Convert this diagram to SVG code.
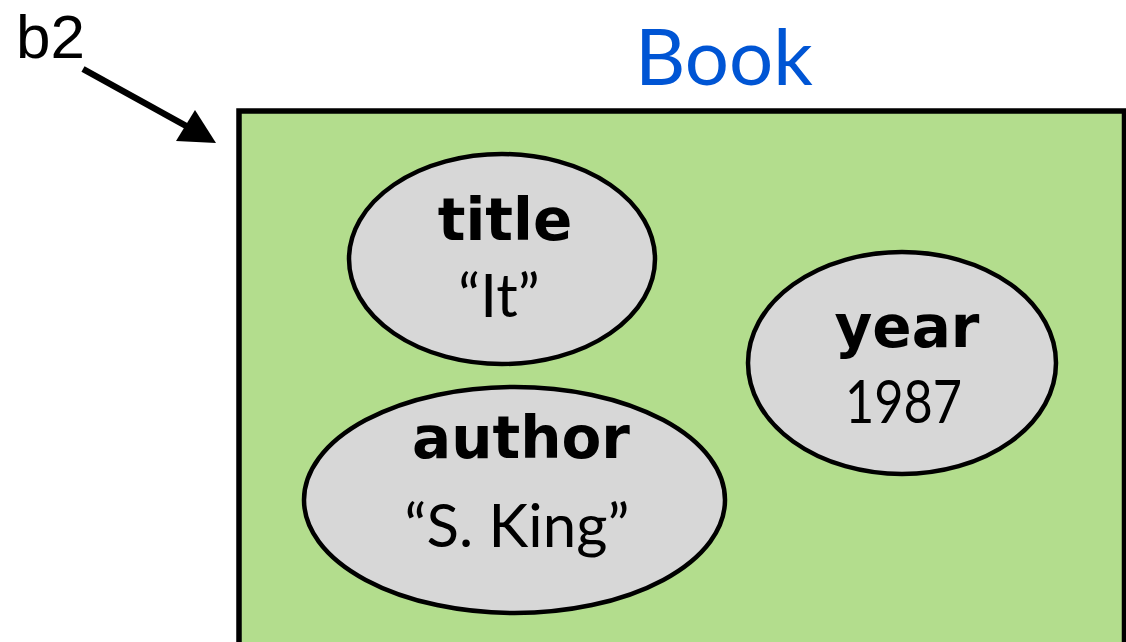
<svg xmlns="http://www.w3.org/2000/svg" width="1126" height="642" viewBox="0 0 1126 642">
  <style>
    .frame { fill: #b3dd8d; stroke: #000; stroke-width: 5.5; }
    .field { fill: #d7d7d7; stroke: #000; stroke-width: 4.5; }
    .key { font-family: "DejaVu Sans", sans-serif; font-weight: bold; font-size: 58px; fill: #000; text-anchor: middle; }
    .val { font-family: Lato, "Liberation Sans", sans-serif; font-size: 60px; fill: #000; text-anchor: middle; }
    .ref { font-family: "Liberation Sans", Arial, sans-serif; font-size: 62px; fill: #000; }
    .cls { font-family: Lato, "Liberation Sans", sans-serif; font-size: 78px; fill: #0055d4; text-anchor: middle; }
    .conn { stroke: #000; stroke-width: 6.5; fill: none; }
  </style>

  <!-- Book object frame -->
  <g id="book">
    <rect class="frame" x="239" y="111" width="885.5" height="540"/>
    <text class="cls" x="724" y="85">Book</text>
  </g>

  <!-- reference name -->
  <g id="b2">
    <text class="ref" x="16" y="58">b2</text>
  </g>

  <!-- fields -->
  <g id="title">
    <ellipse class="field" cx="502" cy="259" rx="153" ry="105"/>
    <text class="key" x="505" y="240">title</text>
    <text class="val" x="499" y="317" font-size="62">“It”</text>
  </g>

  <g id="year">
    <ellipse class="field" cx="902" cy="363" rx="154" ry="111"/>
    <text class="key" x="907" y="347">year</text>
    <text class="val" x="903.5" y="423" textLength="117" lengthAdjust="spacingAndGlyphs">1987</text>
  </g>

  <g id="author">
    <ellipse class="field" cx="514.5" cy="500" rx="210.5" ry="113"/>
    <text class="key" x="521" y="458">author</text>
    <text class="val" x="517" y="547" font-size="56">“S. King”</text>
  </g>

  <!-- connectors -->
  <g id="connectors">
    <line class="conn" x1="83" y1="69" x2="188" y2="127"/>
    <polygon points="216,143 176,141 195,110" fill="#000"/>
  </g>
</svg>
